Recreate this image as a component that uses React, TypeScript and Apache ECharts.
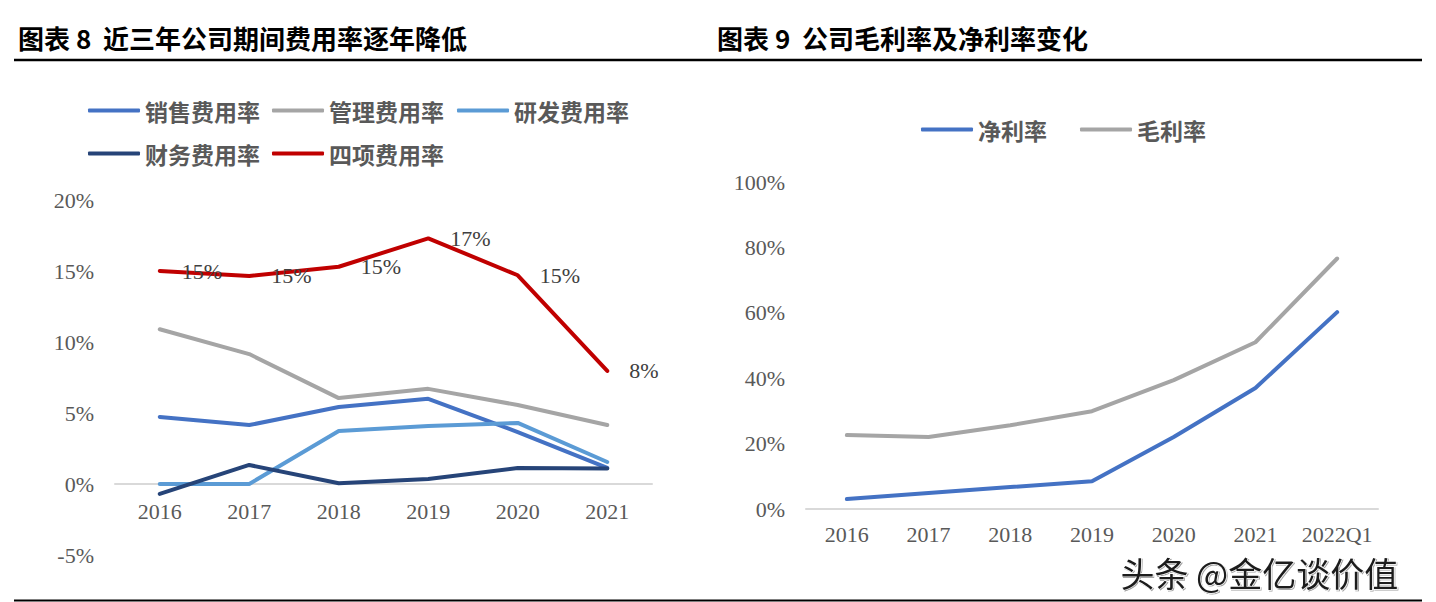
import React, { useEffect, useRef } from "react";
import * as echarts from "echarts";

// ---- Chart 8 data (期间费用率, %) ----
const years = ["2016", "2017", "2018", "2019", "2020", "2021"];
const salesRate = [4.72, 4.15, 5.42, 6.0, 3.66, 1.13];
const adminRate = [10.9, 9.15, 6.05, 6.7, 5.56, 4.15];
const rdRate = [0, 0, 3.73, 4.08, 4.3, 1.55];
const financeRate = [-0.7, 1.34, 0.05, 0.35, 1.13, 1.1];
const totalRate = [15.0, 14.65, 15.3, 17.3, 14.7, 7.96];
const leftMin = -5;
const leftMax = 20;
const leftStep = 5;

// ---- Chart 9 data (毛利率 / 净利率, %) ----
const periods = ["2016", "2017", "2018", "2019", "2020", "2021", "2022Q1"];
const netMargin = [3.05, 4.9, 6.7, 8.5, 22.0, 37.0, 60.2];
const grossMargin = [22.6, 22.0, 25.6, 29.9, 39.4, 51.0, 76.6];
const rightMin = 0;
const rightMax = 100;
const rightStep = 20;

const SERIF = "'Liberation Serif', 'DejaVu Serif', serif";
const CJK = "'Noto Sans CJK SC', 'Noto Sans', sans-serif";

const C_SALES = "#4472C4";
const C_ADMIN = "#A5A5A5";
const C_RD = "#5B9BD5";
const C_FIN = "#264478";
const C_TOTAL = "#C00000";

export default function App() {
  const ref = useRef<HTMLDivElement>(null);

  useEffect(() => {
    document.body.style.margin = "0";
    if (!ref.current) return;
    const chart = echarts.init(ref.current, null, { renderer: "svg" });

    const legendText = {
      color: "#595959",
      fontSize: 23,
      fontWeight: "bold" as const,
      fontFamily: CJK,
    };
    const mkLegend = (name: string, left: number, top: number) => ({
      data: [name],
      left,
      top,
      padding: 0,
      itemWidth: 52,
      itemHeight: 4,
      itemGap: 6,
      icon: "roundRect",
      textStyle: legendText,
      selectedMode: false,
    });

    const axisLabelY = {
      color: "#595959",
      fontSize: 22,
      fontFamily: SERIF,
      margin: 21,
      formatter: "{value}%",
    };
    const axisLabelX = {
      color: "#595959",
      fontSize: 22,
      fontFamily: SERIF,
      margin: 16,
      interval: 0,
    };
    const xAxisCommon = {
      type: "category" as const,
      boundaryGap: true,
      axisTick: { show: false },
      axisLine: { onZero: false, lineStyle: { color: "#D9D9D9", width: 2 } },
      splitLine: { show: false },
    };
    const yAxisCommon = {
      type: "value" as const,
      axisLine: { show: false },
      axisTick: { show: false },
      splitLine: { show: false },
    };
    const lineSeries = (
      name: string,
      data: number[],
      color: string,
      xi: number,
      extra: any = {}
    ) => ({
      name,
      type: "line",
      data,
      xAxisIndex: xi,
      yAxisIndex: xi,
      symbol: "none",
      showSymbol: false,
      smooth: false,
      lineStyle: { color, width: 4, cap: "round" },
      itemStyle: { color },
      ...extra,
    });

    chart.setOption({
      animation: false,
      backgroundColor: "#ffffff",
      legend: [
        mkLegend("销售费用率", 88, 99),
        mkLegend("管理费用率", 272, 99),
        mkLegend("研发费用率", 457, 99),
        mkLegend("财务费用率", 88, 142),
        mkLegend("四项费用率", 272, 142),
        mkLegend("净利率", 921, 118),
        mkLegend("毛利率", 1080, 118),
      ],
      grid: [
        { left: 115, top: 200, width: 537, height: 355, containLabel: false },
        { left: 806, top: 182, width: 572, height: 327, containLabel: false },
      ],
      xAxis: [
        {
          ...xAxisCommon,
          gridIndex: 0,
          data: years,
          axisLabel: axisLabelX,
          offset: -71,
        },
        {
          ...xAxisCommon,
          gridIndex: 1,
          data: periods,
          axisLabel: { ...axisLabelX, margin: 14 },
        },
      ],
      yAxis: [
        {
          ...yAxisCommon,
          gridIndex: 0,
          min: leftMin,
          max: leftMax,
          interval: leftStep,
          axisLabel: axisLabelY,
        },
        {
          ...yAxisCommon,
          gridIndex: 1,
          min: rightMin,
          max: rightMax,
          interval: rightStep,
          axisLabel: axisLabelY,
        },
      ],
      series: [
        lineSeries("销售费用率", salesRate, C_SALES, 0),
        lineSeries("管理费用率", adminRate, C_ADMIN, 0),
        lineSeries("研发费用率", rdRate, C_RD, 0),
        lineSeries("财务费用率", financeRate, C_FIN, 0),
        lineSeries("四项费用率", totalRate, C_TOTAL, 0, {
          symbol: "circle",
          symbolSize: 0.1,
          showSymbol: true,
          label: {
            show: true,
            position: "right",
            distance: 22,
            color: "#404040",
            fontSize: 22,
            fontFamily: SERIF,
            formatter: (p: any) => Math.round(p.value) + "%",
          },
        }),
        lineSeries("净利率", netMargin, C_SALES, 1),
        lineSeries("毛利率", grossMargin, C_ADMIN, 1),
      ],
      graphic: [
        {
          type: "text",
          left: 18,
          top: 24,
          style: {
            text: "图表 8  近三年公司期间费用率逐年降低",
            fontSize: 26,
            fontWeight: "bold",
            fontFamily: CJK,
            fill: "#000000",
          },
        },
        {
          type: "text",
          left: 717,
          top: 24,
          style: {
            text: "图表 9  公司毛利率及净利率变化",
            fontSize: 26,
            fontWeight: "bold",
            fontFamily: CJK,
            fill: "#000000",
          },
        },
        {
          type: "line",
          shape: { x1: 14, y1: 60, x2: 1422, y2: 60 },
          style: { stroke: "#000000", lineWidth: 2.5 },
        },
        {
          type: "line",
          shape: { x1: 14, y1: 600.5, x2: 1422, y2: 600.5 },
          style: { stroke: "#000000", lineWidth: 2 },
        },
        {
          type: "text",
          left: 1120,
          top: 555,
          style: {
            text: "头条 @金亿谈价值",
            fontSize: 34,
            fontFamily: CJK,
            fill: "#1a1a1a",
            stroke: "#ffffff",
            lineWidth: 1,
            textShadowColor: "rgba(0,0,0,0.35)",
            textShadowOffsetX: 1,
            textShadowOffsetY: 1,
            textShadowBlur: 1,
          },
        },
      ],
    });

    return () => {
      chart.dispose();
    };
  }, []);

  return <div ref={ref} style={{ width: 1436, height: 602 }} />;
}
